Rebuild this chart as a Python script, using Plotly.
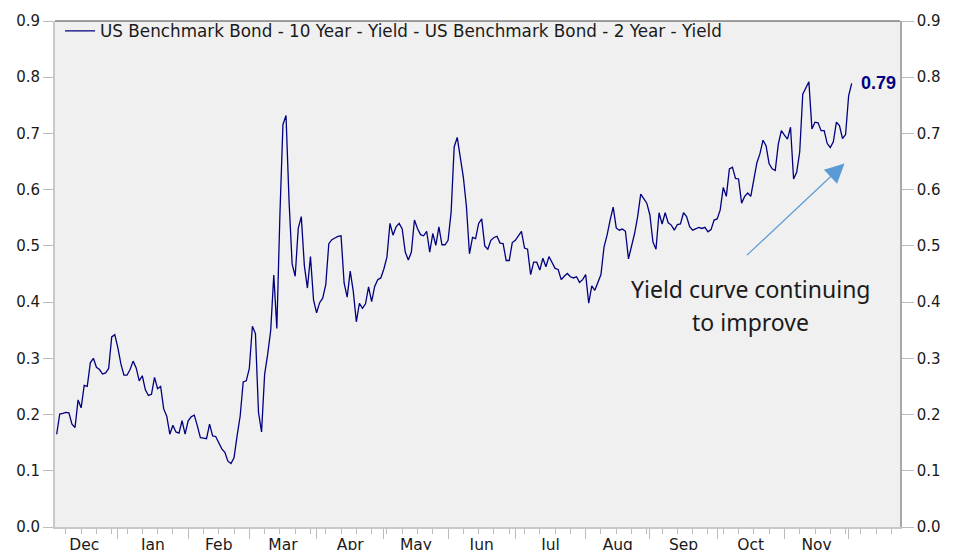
import pandas as pd
import plotly.graph_objects as go

# ---- data (daily business-day series, 10Y - 2Y US benchmark yield spread) ----
start_date = "2019-12-04"
spread = [
    0.165, 0.201, 0.202, 0.204, 0.203, 0.183, 0.177, 0.226, 0.212, 0.252,
    0.250, 0.292, 0.300, 0.284, 0.280, 0.272, 0.274, 0.282, 0.338, 0.342,
    0.319, 0.290, 0.270, 0.270, 0.280, 0.295, 0.283, 0.260, 0.269, 0.244,
    0.234, 0.236, 0.266, 0.246, 0.250, 0.210, 0.197, 0.165, 0.181, 0.169,
    0.167, 0.189, 0.165, 0.189, 0.196, 0.199, 0.180, 0.159, 0.158, 0.157,
    0.183, 0.162, 0.161, 0.151, 0.139, 0.133, 0.117, 0.113, 0.123, 0.162,
    0.197, 0.258, 0.260, 0.282, 0.357, 0.344, 0.204, 0.169, 0.271, 0.307,
    0.350, 0.448, 0.353, 0.555, 0.716, 0.732, 0.579, 0.468, 0.446, 0.531,
    0.552, 0.465, 0.425, 0.481, 0.404, 0.381, 0.399, 0.407, 0.431, 0.504,
    0.511, 0.514, 0.517, 0.518, 0.434, 0.409, 0.455, 0.419, 0.365, 0.398,
    0.389, 0.397, 0.427, 0.401, 0.428, 0.440, 0.443, 0.459, 0.480, 0.540,
    0.519, 0.534, 0.540, 0.530, 0.489, 0.475, 0.489, 0.546, 0.531, 0.520,
    0.518, 0.526, 0.489, 0.522, 0.501, 0.534, 0.502, 0.502, 0.510, 0.560,
    0.676, 0.693, 0.658, 0.622, 0.570, 0.486, 0.515, 0.513, 0.540, 0.548,
    0.500, 0.494, 0.510, 0.515, 0.517, 0.505, 0.504, 0.474, 0.474, 0.506,
    0.510, 0.518, 0.526, 0.496, 0.494, 0.449, 0.471, 0.471, 0.457, 0.478,
    0.463, 0.481, 0.469, 0.460, 0.458, 0.440, 0.446, 0.451, 0.445, 0.443,
    0.445, 0.435, 0.440, 0.449, 0.398, 0.429, 0.421, 0.434, 0.449, 0.498,
    0.519, 0.546, 0.569, 0.532, 0.528, 0.530, 0.526, 0.477, 0.500, 0.522,
    0.552, 0.592, 0.584, 0.576, 0.555, 0.507, 0.494, 0.559, 0.539, 0.559,
    0.541, 0.537, 0.528, 0.538, 0.539, 0.559, 0.552, 0.534, 0.528, 0.530,
    0.533, 0.531, 0.533, 0.525, 0.529, 0.546, 0.548, 0.564, 0.604, 0.588,
    0.637, 0.640, 0.620, 0.619, 0.576, 0.588, 0.594, 0.588, 0.622, 0.648,
    0.664, 0.688, 0.678, 0.646, 0.637, 0.634, 0.681, 0.705, 0.697, 0.690,
    0.711, 0.619, 0.631, 0.667, 0.770, 0.781, 0.792, 0.708, 0.720, 0.719,
    0.705, 0.705, 0.682, 0.675, 0.685, 0.720, 0.714, 0.691, 0.698, 0.767,
    0.789,
]
dates = pd.bdate_range(start_date, periods=len(spread))

series_name = "US Benchmark Bond - 10 Year - Yield - US Benchmark Bond - 2 Year - Yield"
note_lines = ["Yield curve continuing", "to improve"]

month_labels = ["Dec", "Jan", "Feb", "Mar", "Apr", "May", "Jun",
                "Jul", "Aug", "Sep", "Oct", "Nov"]
month_label_dates = ["2019-12-17", "2020-01-16 12:00", "2020-02-17", "2020-03-17",
                     "2020-04-16", "2020-05-15 12:00", "2020-06-16", "2020-07-16 12:00",
                     "2020-08-17 12:00", "2020-09-16", "2020-10-16", "2020-11-16 12:00"]
y_ticks = [0.0, 0.1, 0.2, 0.3, 0.4, 0.5, 0.6, 0.7, 0.8, 0.9]

x_range = ["2019-12-03 10:48", "2020-12-23 19:12"]
breaks = [dict(bounds=["sat", "mon"])]

NAVY = "#000080"
TICK = "#bcbcbc"
AXFONT = dict(family="DejaVu Sans", size=15, color="#1a1a1a")

fig = go.Figure()
fig.add_trace(go.Scatter(
    x=dates, y=spread, mode="lines", name=series_name,
    line=dict(color=NAVY, width=1.3),
))
# invisible copy to carry the right-hand axis and the month labels
fig.add_trace(go.Scatter(
    x=dates, y=spread, mode="lines", xaxis="x2", yaxis="y2",
    line=dict(color="rgba(0,0,0,0)", width=1), showlegend=False, hoverinfo="skip",
))

fig.add_annotation(
    x=dates[-1], y=spread[-1], text=f"<b>{spread[-1]:.2f}</b>", showarrow=False,
    xanchor="left", yanchor="middle", xshift=7,
    font=dict(family="Liberation Sans, Arial", size=18, color=NAVY),
)
fig.add_annotation(
    xref="paper", yref="paper", x=0.9343, y=0.7182, ax=-99, ay=93,
    text="", showarrow=True, arrowhead=2, arrowsize=3.2, arrowwidth=1.2,
    arrowcolor="#5b9bd5", standoff=0,
)
for line_text, ypos in zip(note_lines, [0.470, 0.4056]):
    fig.add_annotation(
        xref="paper", yref="paper", x=0.8236, y=ypos,
        text=line_text, showarrow=False, xanchor="center", yanchor="middle",
        font=dict(family="Noto Sans", size=23, color="#1a1a1a"),
    )
fig.add_shape(type="line", xref="paper", yref="paper", x0=0, x1=1, y0=1, y1=1,
              line=dict(color="#404040", width=1.2))

fig.update_layout(
    # initial size fits inside the page's default body margins; the post script
    # removes those margins and sets the final size
    width=937, height=550, autosize=False,
    margin=dict(l=55, r=45, t=20.6, b=35),
    paper_bgcolor="white", plot_bgcolor="#f0f0f0",
    showlegend=True,
    legend=dict(x=0.006, y=1.015, xanchor="left", yanchor="top",
                bgcolor="rgba(0,0,0,0)", itemwidth=30,
                font=dict(family="DejaVu Sans", size=16.8, color="#1a1a1a")),
    xaxis=dict(
        type="date", range=x_range, rangebreaks=breaks,
        tickmode="linear", tick0="2019-12-01", dtick="M1",
        ticks="outside", ticklen=10, tickwidth=1, tickcolor=TICK,
        showticklabels=False, showgrid=False, zeroline=False,
        showline=True, linecolor="#c8c8c8", linewidth=2,
        minor=dict(ticks="outside", ticklen=5, tickcolor=TICK,
                   tick0="2019-12-02", dtick=7 * 24 * 3600 * 1000, showgrid=False),
    ),
    xaxis2=dict(
        type="date", range=x_range, rangebreaks=breaks, overlaying="x", side="bottom",
        tickmode="array", tickvals=month_label_dates, ticktext=month_labels,
        ticks="outside", ticklen=3, tickcolor="rgba(0,0,0,0)",
        tickfont=dict(family="DejaVu Sans", size=15.5, color="#1a1a1a"),
        showgrid=False, zeroline=False, showline=False,
    ),
    yaxis=dict(
        range=[0, 0.9], tickmode="array", tickvals=y_ticks, tickformat=".1f",
        ticks="outside", ticklen=10, tickcolor=TICK, tickfont=AXFONT,
        showgrid=False, zeroline=False,
        showline=True, linecolor="#c8c8c8", linewidth=2,
    ),
    yaxis2=dict(
        range=[0, 0.9], tickmode="array", tickvals=y_ticks, tickformat=".1f",
        overlaying="y", side="right", anchor="x2",
        ticks="outside", ticklen=12, tickcolor=TICK, tickfont=AXFONT,
        showgrid=False, zeroline=False,
        showline=True, linecolor="#a8a8a8", linewidth=1.5,
    ),
)

post = """
document.body.style.margin='0px';
var gd=document.getElementById('{plot_id}');
gd.style.width='953px'; gd.style.height='566px';
Plotly.relayout(gd, {width: 953, height: 566});
"""

fig.write_html(
    "out.html",
    config={"responsive": False, "displayModeBar": False},
    post_script=post,
)
